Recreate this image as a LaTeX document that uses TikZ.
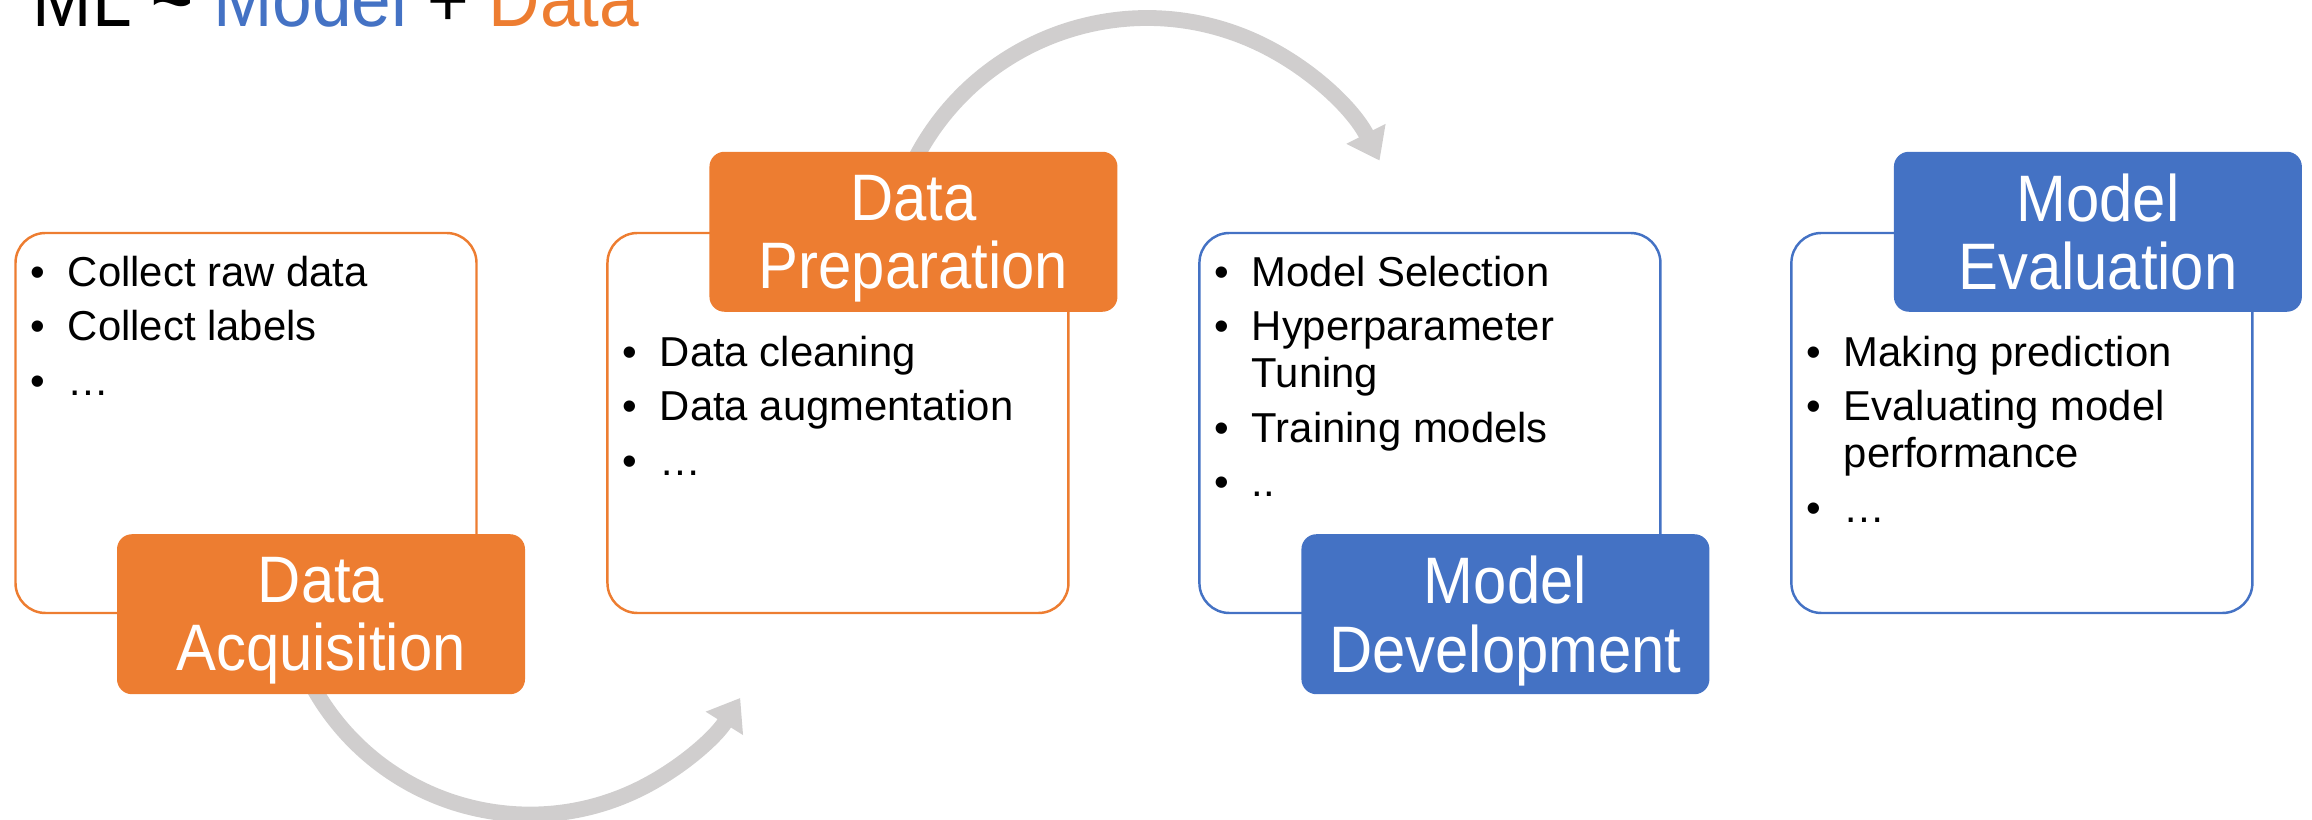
\documentclass[tikz,border=0pt]{standalone}
\usepackage{fontspec}
\setmainfont{Liberation Sans}
\newfontfamily\condfont[FakeStretch=0.91]{Liberation Sans}
\usepackage{xcolor}
\usetikzlibrary{arrows.meta,positioning}

\definecolor{mlorange}{HTML}{ED7D31}
\definecolor{mlblue}{HTML}{4472C4}
\definecolor{mlgrey}{HTML}{D0CECE}

\newcommand{\bul}{\makebox[3.7mm][l]{\textbullet}}
\newcommand{\cont}{\hspace*{3.7mm}}

\begin{document}
\begin{tikzpicture}[
		stage/.style={draw, line width=0.7pt, rounded corners=3mm,
			minimum width=46.1mm, minimum height=38mm, inner sep=0pt},
		tag/.style={rounded corners=1.5mm, inner sep=0pt,
			minimum width=40.8mm, minimum height=16mm,
			align=center, text=white, text depth=0pt,
			font=\condfont\fontsize{18.7}{19.4}\selectfont},
		items/.style={anchor=north west, inner sep=0pt, align=left,
			font=\fontsize{11.9}{13.4}\selectfont},
		flow/.style={mlgrey, line width=4.5pt,
			-{Triangle[length=3mm, width=4.2mm]}},
		node distance=12.85mm,
		]
		\useasboundingbox (0,0) rectangle (23.12,8.2);
		
		\node[anchor=base west, inner sep=0pt,
		font=\condfont\fontsize{22.3}{23}\selectfont] (title) at (0.32,7.93)
		{ML {\bfseries\textasciitilde} \textcolor{mlblue}{Model} + \textcolor{mlorange}{Data}};
		
		\node[stage, draw=mlorange] (acq) at (2.46,3.97) {};
		\node[stage, draw=mlorange, right=of acq] (prep) {};
		\node[stage, draw=mlblue, right=of prep] (dev) {};
		\node[stage, draw=mlblue, right=of dev] (eval) {};
		
		\draw[flow] ([shift={(6.1mm,-6.1mm)}]acq.south)
		arc[start angle=206, end angle=328, radius=2.48];
		\draw[flow] ([shift={(7.25mm,6.3mm)}]prep.north)
		arc[start angle=155, end angle=27, radius=2.61];
		
		\node[items] (acqlist) at ([shift={(1.6mm,-2.4mm)}]acq.north west)
		{\bul Collect raw data\\[2pt]\bul Collect labels\\[2pt]\bul …};
		\node[items] (preplist) at ([shift={(1.6mm,-10.4mm)}]prep.north west)
		{\bul Data cleaning\\[2pt]\bul Data augmentation\\[2pt]\bul …};
		\node[items] (devlist) at ([shift={(1.6mm,-2.4mm)}]dev.north west)
		{\bul Model Selection\\[2pt]\bul Hyperparameter\\\cont Tuning\\[2pt]\bul Training models\\[2pt]\bul ..};
		\node[items] (evallist) at ([shift={(1.6mm,-10.4mm)}]eval.north west)
		{\bul Making prediction\\[2pt]\bul Evaluating model\\\cont performance\\[2pt]\bul …};
		
		\node[tag, fill=mlorange] (acqtag) at ([xshift=7.5mm]acq.south) {Data\\Acquisition};
		\node[tag, fill=mlorange] (preptag) at ([xshift=7.55mm]prep.north) {Data\\Preparation};
		\node[tag, fill=mlblue] (devtag) at ([xshift=7.55mm]dev.south) {Model\\Development};
		\node[tag, fill=mlblue] (evaltag) at ([xshift=7.6mm]eval.north) {Model\\Evaluation};
		
	\end{tikzpicture}
\end{document}
